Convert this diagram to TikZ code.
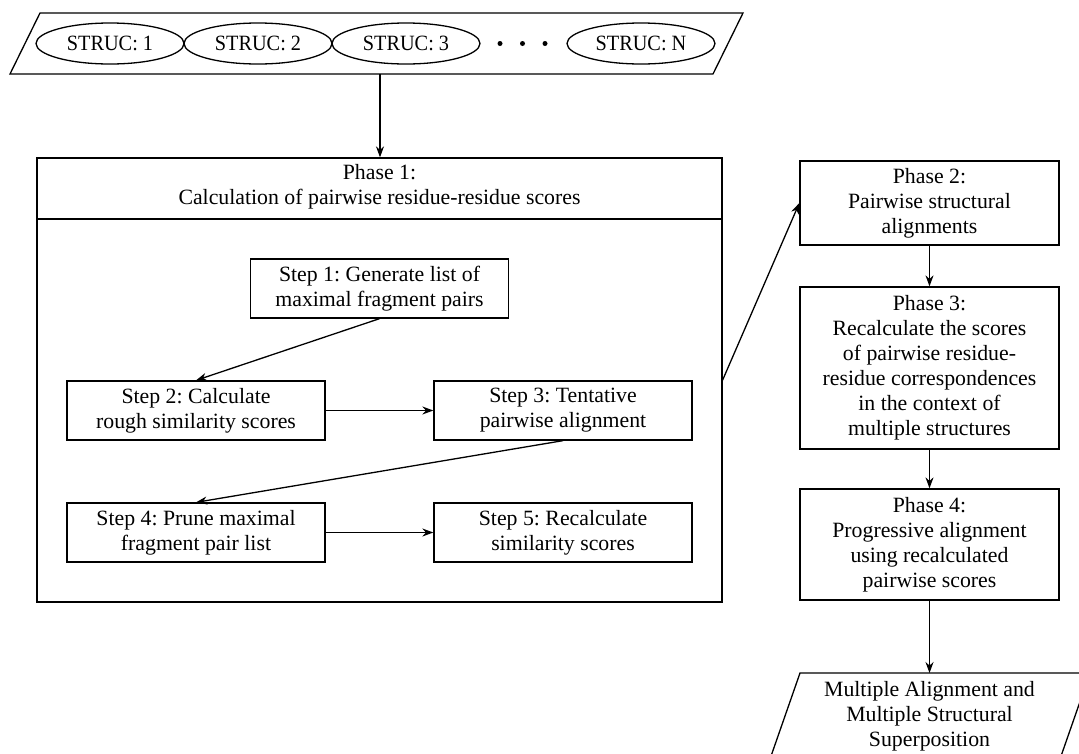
\documentclass[tikz,border=0pt]{standalone}
\usepackage{fontspec}
\setmainfont{Liberation Serif}
\newfontfamily\strucfont[FakeStretch=0.93]{Liberation Serif}
\usetikzlibrary{arrows.meta,shapes.geometric}
\frenchspacing
\begin{document}
\begin{tikzpicture}[x=1pt,y=-1pt,
  every node/.style={font=\fontsize{21.8}{25}\selectfont, align=center, inner sep=0pt},
  line/.style={line width=1.3pt},
  stepbox/.style={draw, line width=1.3pt, minimum width=258pt, minimum height=59pt},
  phasebox/.style={draw, line width=1.3pt, minimum width=259pt},
  struc/.style={draw, ellipse, line width=1.3pt, minimum width=148pt, minimum height=41pt,
    font=\strucfont\fontsize{21.8}{25}\selectfont},
  flow/.style={line width=1.3pt, -{Stealth[length=11pt,width=8pt]}}
]
\useasboundingbox (0,0) rectangle (1079,753);

% input structures
\draw[line] (40,13) -- (743,13) -- (713,74) -- (10,74) -- cycle;
\node[struc] (s1) at (110,43.5) {STRUC: 1};
\node[struc] (s2) at (258,43.5) {STRUC: 2};
\node[struc] (s3) at (406,43.5) {STRUC: 3};
\node[struc] (sN) at (641,43.5) {STRUC: N};
\foreach \x in {500,522.5,545} \fill (\x,43.5) circle (2.5pt);
\coordinate (inbot) at (380,74);

% phase 1 container
\node[draw, line width=1.3pt, minimum width=685pt, minimum height=444pt] (phase1) at (379.5,380) {};
\node (p1title) at (379.5,187) {Phase 1:\\Calculation of pairwise residue-residue scores};
\draw[line] (phase1.west |- 0,219) -- (phase1.east |- 0,219);

% steps
\node[stepbox] (step1) at (379.5,288.5) {Step 1: Generate list of\\maximal fragment pairs};
\node[stepbox] (step2) at (196,410.5) {Step 2: Calculate\\rough similarity scores};
\node[stepbox] (step3) at (563,410.5) {Step 3: Tentative\\pairwise alignment};
\node[stepbox] (step4) at (196,532.5) {Step 4: Prune maximal\\fragment pair list};
\node[stepbox] (step5) at (563,532.5) {Step 5: Recalculate\\similarity scores};

% phases 2-4
\node[phasebox, minimum height=84pt] (phase2) at (929.5,203) {Phase 2:\\Pairwise structural\\alignments};
\node[phasebox, minimum height=162pt] (phase3) at (929.5,368) {Phase 3:\\Recalculate the scores\\of pairwise residue-\\residue correspondences\\in the context of\\multiple structures};
\node[phasebox, minimum height=111pt] (phase4) at (929.5,544.5) {Phase 4:\\Progressive alignment\\using recalculated\\pairwise scores};

% output
\draw[line] (800,673) -- (1090,673) -- (1060,759) -- (770,759) -- cycle;
\coordinate (outtop) at (929.5,673);
\node (result) at (929.5,716) {Multiple Alignment and\\Multiple Structural\\Superposition};

% connectors
\draw[flow] (inbot) -- (inbot |- phase1.north);
\draw[flow] (step1.south) -- (step2.north);
\draw[flow] (step2.east) -- (step3.west);
\draw[flow] (step3.south) -- (step4.north);
\draw[flow] (step4.east) -- (step5.west);
\draw[flow] (phase1.east) -- (phase2.west);
\draw[flow] (phase2.south) -- (phase3.north);
\draw[flow] (phase3.south) -- (phase4.north);
\draw[flow] (phase4.south) -- (outtop);
\end{tikzpicture}
\end{document}
